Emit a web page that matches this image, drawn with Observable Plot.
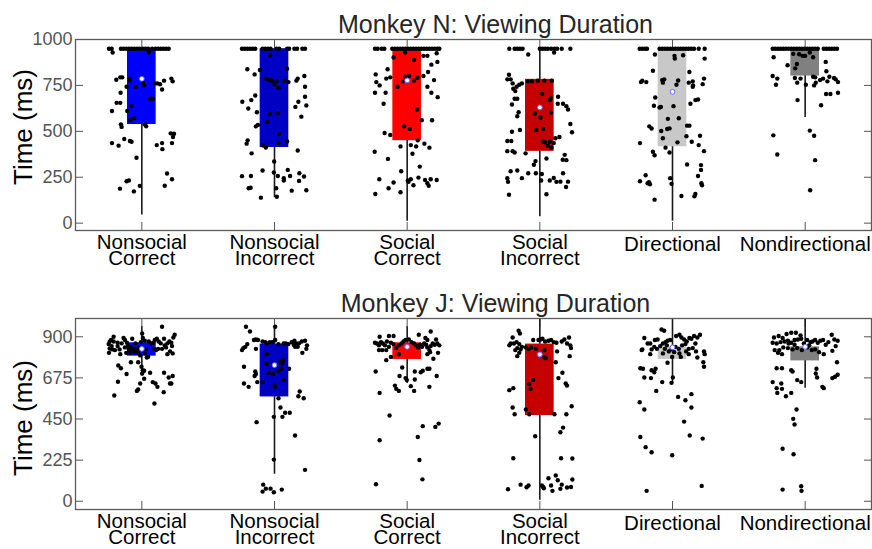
<!DOCTYPE html>
<html><head><meta charset="utf-8">
<script src="https://cdn.jsdelivr.net/npm/d3@7"></script>
<script src="https://cdn.jsdelivr.net/npm/@observablehq/plot@0.6"></script>
<style>
body{margin:0;background:#fff;}
#wrap{position:relative;width:872px;height:549px;font-family:"Liberation Sans",Arial,sans-serif;}
#wrap svg{position:absolute;left:0;}
</style></head><body><div id="wrap"></div>
<script>
// ---------- data ----------
const categories = ["Nonsocial\nCorrect","Nonsocial\nIncorrect","Social\nCorrect","Social\nIncorrect","Directional","Nondirectional"];
const boxColors = ["#0000ff","#0000c4","#ff0000","#c40000","#c8c8c8","#808080"];
const titles = ["Monkey N: Viewing Duration","Monkey J: Viewing Duration"];
const yLabel = "Time (ms)";
const yTicksN = [0,250,500,750,1000];
const yTicksJ = [0,225,450,675,900];

// Monkey N box statistics
const nQ1 = [537,412,449,391,416,801];
const nQ3 = [945,950,945,783,950,947];
const nLow = [44,139,11,35,11,575];
const nHigh = [950,950,950,950,950,950];
const nMarker = [786,null,777,630,715,null];
// Monkey J box statistics
const jQ1 = [794,571,776,469,776,768];
const jQ3 = [867,860,867,860,845,845];
const jLow = [685,148,644,5,644,619];
const jHigh = [955,955,955,1000,1000,1000];
const jMarker = [834,745,845,803,842,845];

// Monkey N trials capped at 950 ms (jitter values)
const nCeilingMs = 950;
const nCeiling = [
  [-0.99,-0.91,-0.63,-0.55,-0.47,-0.39,-0.31,-0.23,-0.15,-0.07,0.03,0.11,0.19,0.31,0.41,0.49,0.57,0.65,0.73,0.81],
  [-0.98,-0.9,-0.82,-0.74,-0.66,-0.58,-0.36,-0.28,-0.2,-0.12,0.06,0.14,0.38,0.44,0.6,0.68,0.84,0.92],
  [-0.97,-0.89,-0.77,-0.69,-0.45,-0.37,-0.29,-0.21,-0.13,-0.05,0.03,0.11,0.19,0.27,0.35,0.43,0.51,0.59,0.67,0.75,0.83,0.91,0.97],
  [-0.92,-0.76,-0.68,-0.6,-0.52,0,0.08,0.16,0.24,0.34,0.44,0.52,0.66,0.92],
  [-0.99,-0.91,-0.83,-0.77,-0.39,-0.31,-0.23,-0.15,-0.07,0.01,0.09,0.17,0.25,0.33,0.41,0.49,0.57,0.65,0.79,0.97],
  [-0.98,-0.9,-0.82,-0.74,-0.66,-0.58,-0.5,-0.42,-0.34,-0.26,-0.18,-0.1,-0.02,0.06,0.14,0.22,0.3,0.38,0.56,0.64,0.72,0.8,0.88,0.96]
];

// Monkey N trials: [jitter, ms]
const nNonsocialCorrect = [[-0.88,929],[0.21,929],[-0.77,781],[-0.65,794],[-0.59,794],[-0.36,787],[-0.36,777],[0.04,765],[0.07,750],[-0.19,743],[-0.46,743],[-0.64,710],[0.39,761],[0.47,761],[0.55,756],[0.67,776],[0.89,787],[0.93,772],[0.61,728],[0.25,679],[0.34,677],[-0.76,655],[-0.65,655],[-0.9,611],[-0.44,611],[-0.31,637],[-0.35,560],[-0.23,571],[-0.63,538],[-0.61,524],[0.09,538],[0.13,527],[0.87,489],[0.97,487],[0.94,469],[-0.53,458],[-0.36,447],[-0.31,443],[-0.9,436],[-0.7,422],[0.45,425],[0.61,436],[0.91,436],[0.62,403],[-0.16,356],[0.76,270],[0.91,239],[-0.39,232],[-0.46,228],[0.69,204],[-0.06,203],[-0.66,188],[-0.24,173]];
const nNonsocialIncorrect = [[-0.13,914],[-0.82,838],[-0.44,834],[-0.6,810],[0.38,841],[-0.26,787],[-0.16,779],[-0.08,776],[0,754],[0.06,774],[0.12,735],[0.3,776],[0.42,768],[0.7,787],[0.66,776],[0.9,801],[0.92,743],[-0.58,695],[-0.7,670],[-0.97,661],[-0.79,624],[-0.53,604],[-0.15,595],[0.1,600],[-0.22,551],[-0.5,535],[-0.56,527],[0.72,661],[0.63,633],[0.96,641],[0.92,688],[0.81,580],[0.14,485],[0.12,436],[-0.34,423],[-0.26,412],[0.38,445],[-0.81,451],[-0.84,433],[-0.69,380],[0.7,396],[-0.36,287],[-0.02,276],[0.1,257],[0.4,290],[0.47,257],[0.28,245],[0.28,232],[0.75,272],[0.89,254],[0.74,230],[-0.98,256],[-0.71,257],[-0.78,190],[-0.72,193],[-0.01,336],[0.05,190],[0.07,144],[-0.41,139],[0.52,177],[0.96,179]];
const nSocialCorrect = [[-0.06,929],[-0.41,902],[0.21,889],[0.49,911],[0.61,911],[0.89,925],[0.91,878],[0.73,863],[0.63,823],[0.49,801],[0.81,779],[-0.59,838],[-0.95,810],[-0.63,787],[-0.51,794],[-0.93,768],[-0.83,750],[-0.13,772],[-0.06,797],[0.06,801],[0.21,776],[0.31,792],[-0.29,743],[0.61,743],[0.73,710],[0.92,686],[-0.97,710],[-0.65,710],[-0.71,650],[0.3,619],[-0.09,527],[0.08,513],[0.44,560],[0.75,560],[-0.68,491],[-0.51,480],[0.32,451],[-0.2,418],[0.11,425],[0.27,418],[0.52,433],[0.67,411],[-0.98,389],[0.16,378],[-0.58,350],[0.38,308],[-0.18,283],[-0.84,239],[-0.41,221],[-0.56,190],[0.04,225],[0.11,239],[0.19,206],[0.34,248],[0.54,235],[0.61,217],[0.65,203],[0.71,239],[0.89,235],[-0.2,168],[-0.96,159],[0.02,232]];
const nSocialIncorrect = [[-0.35,918],[0.43,929],[-0.93,808],[-0.98,783],[-0.88,783],[-0.82,761],[-0.7,743],[-0.62,754],[-0.54,761],[-0.36,772],[-0.24,772],[-0.06,776],[0.14,776],[0.36,776],[-0.8,732],[-0.74,719],[0.07,704],[0.33,681],[0.3,670],[0.55,688],[0.54,650],[0.7,650],[0.8,637],[0.85,619],[-0.76,677],[-0.68,677],[-0.84,646],[-0.68,582],[-0.64,604],[-0.15,597],[0.02,575],[0.34,602],[0.1,513],[-0.11,507],[0.92,540],[0.97,495],[-0.84,498],[-0.6,507],[0.47,462],[0.59,469],[-0.98,447],[-0.86,447],[0.1,443],[0.16,440],[0.3,443],[0.24,422],[0.42,436],[0.35,411],[-0.98,392],[-0.82,392],[-0.76,385],[-0.43,380],[-0.13,338],[-0.18,318],[0.2,352],[0.75,372],[0.69,345],[0.8,343],[-0.88,283],[-0.68,287],[-0.35,272],[-0.12,272],[0.06,268],[-0.54,245],[-0.98,245],[-0.96,225],[0.04,232],[0.3,232],[0.42,246],[0.5,225],[0.62,226],[0.7,272],[0.85,226],[0.79,197],[-0.93,155],[0.2,157]];
const nDirectional = [[-0.53,918],[0.06,911],[0.07,896],[0.32,914],[0.97,896],[-0.59,830],[0.51,823],[-0.95,768],[-0.91,776],[-0.79,768],[-0.31,779],[-0.25,783],[-0.29,765],[0.12,754],[0.17,777],[0.49,765],[0.61,772],[0.62,750],[0.61,743],[0.91,757],[0.95,787],[-0.52,684],[-0.56,639],[-0.39,630],[-0.35,633],[0.03,637],[0.54,650],[0.69,670],[0.77,673],[-0.14,568],[0.19,571],[-0.7,527],[-0.63,515],[-0.34,502],[-0.16,513],[-0.09,516],[0.44,531],[0.51,531],[-0.29,462],[0.15,440],[0.42,473],[0.58,443],[0.83,476],[-0.98,436],[-0.21,411],[-0.09,385],[-0.59,389],[-0.54,370],[0.79,425],[0.95,392],[0.44,319],[0.86,316],[0.86,290],[0.77,257],[-0.07,245],[-0.03,214],[-0.98,228],[-0.81,261],[-0.75,217],[-0.71,223],[-0.68,212],[0.87,217],[0.89,206],[-0.54,128],[0.27,148],[0.69,159],[0.66,146]];
const nNondirectional = [[-0.95,903],[-0.36,922],[-0.18,920],[-0.08,911],[0,911],[0.14,929],[0.24,903],[-0.25,867],[-0.3,843],[-0.53,860],[0.62,878],[0.64,827],[-0.98,801],[-0.84,787],[-0.88,754],[-0.31,790],[-0.14,787],[-0.24,765],[0.02,754],[0.27,750],[0.32,765],[0.24,797],[0.3,794],[0.45,779],[0.54,787],[0.67,772],[0.73,797],[0.87,790],[0.92,783],[0.99,768],[0.63,703],[0.76,703],[0.99,710],[0.48,642],[-0.23,670],[0.14,504],[0.27,476],[-0.96,478],[-0.84,374],[0.3,343],[0.15,179]];

// Monkey J trials: [jitter, ms]
const jNonsocialCorrect = [[-0.93,882],[-0.85,900],[-0.97,873],[-1,860],[-0.91,849],[-0.97,836],[-0.99,812],[-0.89,831],[-0.81,827],[-0.73,849],[-0.67,831],[-0.61,864],[-0.55,893],[-0.51,882],[-0.45,867],[-0.41,853],[-0.51,842],[-0.39,831],[-0.31,842],[-0.25,823],[-0.21,834],[-0.15,827],[-0.11,812],[-0.19,864],[-0.03,871],[0.03,893],[0.01,918],[0.09,878],[0.13,834],[0.21,874],[0.29,864],[0.35,867],[0.39,882],[0.45,889],[0.51,874],[0.57,864],[0.61,834],[0.67,889],[0.69,853],[0.73,842],[0.77,864],[0.83,874],[0.89,867],[0.91,849],[0.95,896],[0.99,911],[0.93,809],[0.85,820],[0.77,805],[0.61,955],[-0.29,889],[-0.35,812],[-0.47,812],[-0.65,805],[0.09,809],[0.37,834],[0.49,834],[0.43,827],[-0.09,842],[-0.71,743],[-0.63,728],[-0.46,696],[-0.72,654],[-0.33,761],[-0.11,761],[-0.01,736],[0.03,717],[0.01,699],[0.07,714],[-0.05,798],[0.15,787],[0.25,703],[0.07,670],[0.67,703],[0.81,677],[0.93,685],[0.85,644],[0.89,644],[0.41,644],[0.47,626],[0.33,652],[-0.05,644],[-0.11,612],[-0.15,604],[-0.83,579],[0.66,597],[0.38,535],[0.19,791],[-0.21,816],[-0.85,874],[-0.73,867]];
const jNonsocialIncorrect = [[-0.86,955],[-0.74,929],[-0.98,827],[-0.94,838],[-0.88,845],[-0.82,860],[-0.62,882],[-0.56,885],[-0.5,882],[-0.56,834],[-0.36,874],[-0.28,871],[-0.22,864],[-0.14,871],[-0.06,871],[0.02,882],[0.12,860],[0.28,864],[0.34,864],[0.42,860],[0.52,871],[0.6,878],[0.7,845],[0.74,864],[0.82,874],[0.92,878],[0.98,853],[0.96,834],[0.84,812],[0.58,856],[0.62,845],[0.66,864],[0.02,955],[-0.24,805],[-0.24,754],[-0.92,736],[-0.58,710],[-0.56,696],[-0.6,685],[-0.52,652],[-0.78,626],[-0.92,644],[-0.36,652],[-0.18,703],[-0.04,696],[0,633],[0.02,626],[0.12,714],[0.2,725],[0.26,772],[0.18,765],[0.24,754],[0.28,663],[0.44,725],[0.76,601],[0.72,575],[0.88,564],[0.12,564],[0.18,513],[0.24,462],[0.32,484],[0.46,484],[-0.02,462],[-0.54,433],[0.62,360],[-0.02,228],[0.92,172],[-0.34,91],[-0.26,69],[-0.12,69],[-0.02,49],[0.22,64],[-0.36,53]];
const jSocialCorrect = [[-0.83,900],[-0.55,904],[-0.41,904],[0.35,911],[0.71,929],[0.55,893],[0.61,882],[0.87,885],[-0.97,867],[-0.91,863],[-0.85,853],[-0.79,871],[-0.73,863],[-0.67,853],[-0.61,874],[-0.55,845],[-0.49,867],[-0.41,860],[-0.33,838],[-0.25,853],[-0.17,863],[-0.11,874],[-0.05,882],[0.05,885],[0.13,871],[0.21,863],[0.27,853],[0.33,842],[0.39,856],[0.45,845],[0.51,863],[0.57,856],[0.61,842],[0.67,827],[0.71,849],[0.77,863],[0.83,856],[0.91,863],[0.97,853],[0.93,812],[0.69,816],[0.61,805],[-0.63,827],[-0.85,827],[-0.75,827],[-0.25,805],[-0.49,790],[-0.63,772],[0.79,780],[-0.95,710],[-0.15,732],[-0.23,685],[-0.05,674],[-0.01,663],[0.23,710],[0.23,666],[0.41,706],[0.47,714],[0.61,725],[0.67,725],[0.89,685],[0.11,630],[-0.37,633],[-0.33,615],[-0.25,604],[0.21,604],[0.67,626],[-0.83,593],[-0.53,469],[0.47,411],[0.85,407],[0.95,425],[0.32,352],[-0.83,334],[0.37,226],[0.46,120],[-0.94,93]];
const jSocialIncorrect = [[-0.64,933],[-0.6,918],[-0.82,896],[-0.88,863],[-0.78,863],[-0.7,871],[-0.62,860],[-0.54,845],[-0.92,853],[-0.68,838],[-0.74,827],[-0.58,831],[-0.42,842],[-0.34,834],[-0.26,842],[-0.2,882],[-0.12,834],[-0.04,882],[0.02,885],[0.08,889],[0.16,874],[0.26,878],[0.34,882],[0.42,871],[0.5,867],[0.66,874],[0.74,885],[0.82,863],[0.88,896],[0.92,853],[0.94,838],[0.9,794],[0.52,820],[0.48,761],[0.78,644],[0.82,633],[0.68,703],[0.56,674],[0.96,520],[0.8,476],[0.44,476],[-0.32,476],[-0.42,502],[-0.76,476],[-0.82,513],[-0.92,608],[-0.8,619],[-0.32,641],[-0.2,663],[-0.28,615],[0.14,787],[0.18,783],[0.14,827],[-0.62,812],[-0.68,794],[-0.14,356],[-0.8,235],[0.64,235],[0.98,234],[0.7,403],[0.62,378],[-0.96,66],[-0.58,91],[-0.4,77],[-0.34,86],[0.06,86],[0.12,71],[0.26,126],[0.34,86],[0.48,141],[0.54,115],[0.62,68],[0.38,57],[0.66,91],[0.82,75],[0.94,78],[0.98,119],[0.1,78]];
const jDirectional = [[-0.33,940],[-0.25,933],[-0.85,893],[-0.75,863],[-0.67,863],[-0.53,882],[-0.45,885],[-0.55,845],[-0.47,834],[-0.37,849],[-0.29,863],[-0.21,871],[-0.15,878],[-0.07,882],[0.11,904],[0.21,911],[0.27,896],[0.35,885],[0.43,874],[0.51,893],[0.57,889],[0.65,904],[0.75,896],[0.83,911],[0.69,863],[0.61,838],[0.49,834],[0.39,860],[0.29,853],[0.09,845],[0.19,834],[0.05,816],[-0.03,831],[-0.11,820],[-0.23,834],[-0.17,853],[-0.63,831],[-0.91,831],[-0.93,827],[-0.67,805],[-0.29,809],[0.25,790],[-0.01,790],[0.21,809],[0.41,820],[0.49,805],[0.71,820],[0.95,820],[0.97,805],[0.75,787],[0.93,761],[0.95,736],[-0.15,758],[-0.97,728],[-0.89,725],[-0.63,717],[-0.51,725],[-0.55,706],[-0.85,677],[-0.65,674],[0.01,677],[-0.31,652],[-0.03,648],[-0.49,604],[0.17,571],[0.39,553],[0.57,586],[-0.99,542],[-0.85,502],[0.57,513],[0.35,436],[-0.97,352],[-0.81,296],[-0.63,268],[-0.01,252],[0.52,360],[0.91,343],[-0.78,57],[0.88,84]];
const jNondirectional = [[-0.56,915],[-0.42,922],[-0.28,922],[-0.14,907],[-0.94,896],[-0.8,904],[-0.68,893],[-0.98,867],[-0.86,863],[-0.74,871],[-0.62,874],[-0.52,878],[-0.42,867],[-0.32,882],[-0.22,885],[-0.12,889],[-0.04,863],[0.06,882],[0.16,871],[0.22,874],[0.3,882],[0.38,867],[0.46,878],[0.54,882],[0.62,856],[0.7,871],[0.8,911],[0.88,885],[0.98,878],[0.92,849],[0.82,823],[0.56,805],[0.42,816],[0.3,831],[0.2,827],[0.06,842],[-0.1,827],[-0.24,838],[-0.38,831],[-0.52,838],[-0.66,842],[-0.78,827],[-0.92,827],[-0.82,812],[-0.7,805],[-0.5,863],[-0.32,856],[0.12,853],[-0.86,728],[-0.7,728],[-0.42,717],[-0.38,710],[0.34,725],[0.32,699],[0.36,677],[0.52,626],[0.56,619],[0.82,674],[0.9,681],[0.98,692],[0.96,761],[-0.98,652],[-0.86,619],[-0.84,593],[-0.72,644],[-0.7,615],[-0.58,575],[-0.42,593],[-0.24,663],[-0.12,652],[-0.26,502],[-0.36,451],[-0.32,420],[-0.68,287],[-0.35,257],[-0.68,64],[-0.12,82],[-0.11,57]];

const nPoints = [nNonsocialCorrect,nNonsocialIncorrect,nSocialCorrect,nSocialIncorrect,nDirectional,nNondirectional];
const jPoints = [jNonsocialCorrect,jNonsocialIncorrect,jSocialCorrect,jSocialIncorrect,jDirectional,jNondirectional];

// ---------- drawing ----------
const JIT = 0.25;      // jitter spread (in category units)
const BOXHALF = 0.108; // box half-width (in category units)
const FONT = '"Liberation Sans", Arial, Helvetica, sans-serif';

function panel(o) {
  const idx = d3.range(categories.length);
  const twoLine = idx.filter(i => categories[i].includes("\n"));
  const oneLine = idx.filter(i => !categories[i].includes("\n"));
  const pts = o.points.flatMap((arr, i) => arr.map(([j, v]) => ({x: i + j * JIT, y: v})))
    .concat((o.ceiling || []).flatMap((arr, i) => arr.map(j => ({x: i + j * JIT, y: o.ceilingMs}))));
  const boxes = idx.map(i => ({i, q1: o.q1[i], q3: o.q3[i], lo: o.lo[i], hi: o.hi[i], m: o.marker[i], c: boxColors[i]}));
  const labelOpts = {x: d => d, text: d => categories[d], frameAnchor: "bottom", lineAnchor: "top", fontSize: 20.5, lineHeight: 0.8, fill: "black"};
  return Plot.plot({
    width: 872, height: o.height,
    marginLeft: 75, marginRight: 1, marginTop: 39, marginBottom: o.height - 230,
    x: {domain: [-0.5, 5.5], axis: null},
    y: {domain: o.domain, axis: null},
    style: {fontFamily: FONT, fontSize: "18px", background: "white", overflow: "visible"},
    marks: [
      Plot.axisY({anchor: "left", ticks: o.yTicks, tickSize: -8, tickPadding: 11, color: "#555", label: null, tickFormat: d => String(d), fontSize: 18}),
      Plot.axisY({anchor: "right", ticks: o.yTicks, tickSize: -8, color: "#555", label: null, tickFormat: () => ""}),
      Plot.axisX({anchor: "bottom", ticks: idx, tickSize: -8, color: "#555", label: null, tickFormat: () => ""}),
      Plot.axisX({anchor: "top", ticks: idx, tickSize: -8, color: "#555", label: null, tickFormat: () => ""}),
      Plot.ruleX(boxes, {x: "i", y1: "lo", y2: "hi", stroke: "#1a1a1a", strokeWidth: 1.6}),
      Plot.rect(boxes, {x1: d => d.i - BOXHALF, x2: d => d.i + BOXHALF, y1: "q1", y2: "q3", fill: "c"}),
      Plot.dot(pts, {x: "x", y: "y", r: 2.2, fill: "black", stroke: null}),
      Plot.dot(boxes.filter(d => d.m != null), {x: "i", y: "m", r: 2.4, fill: "white", stroke: "#6b6bff", strokeWidth: 1}),
      Plot.frame({stroke: "#5a5a5a", strokeWidth: 1.3}),
      Plot.text(twoLine, {...labelOpts, dy: 6.5}),
      Plot.text(oneLine, {...labelOpts, dy: 8.5}),
      Plot.text([o.title], {frameAnchor: "top", dx: 22, dy: -6.5, lineAnchor: "bottom", fontSize: 25, fill: "#262626"}),
      Plot.text([yLabel], {frameAnchor: "left", rotate: -90, dx: -52, dy: o.labelDy, textAnchor: "middle", lineAnchor: "middle", fontSize: 26, fill: "black"})
    ]
  });
}

const wrap = document.getElementById("wrap");
const topPanel = panel({title: titles[0], points: nPoints, ceiling: nCeiling, ceilingMs: nCeilingMs,
  q1: nQ1, q3: nQ3, lo: nLow, hi: nHigh, marker: nMarker, domain: [-40, 1000], yTicks: yTicksN, height: 279, labelDy: -8});
topPanel.style.top = "0px";
wrap.appendChild(topPanel);
const bottomPanel = panel({title: titles[1], points: jPoints,
  q1: jQ1, q3: jQ3, lo: jLow, hi: jHigh, marker: jMarker, domain: [-45, 1000], yTicks: yTicksJ, height: 270, labelDy: 4});
bottomPanel.style.top = "279px";
wrap.appendChild(bottomPanel);
</script></body></html>
